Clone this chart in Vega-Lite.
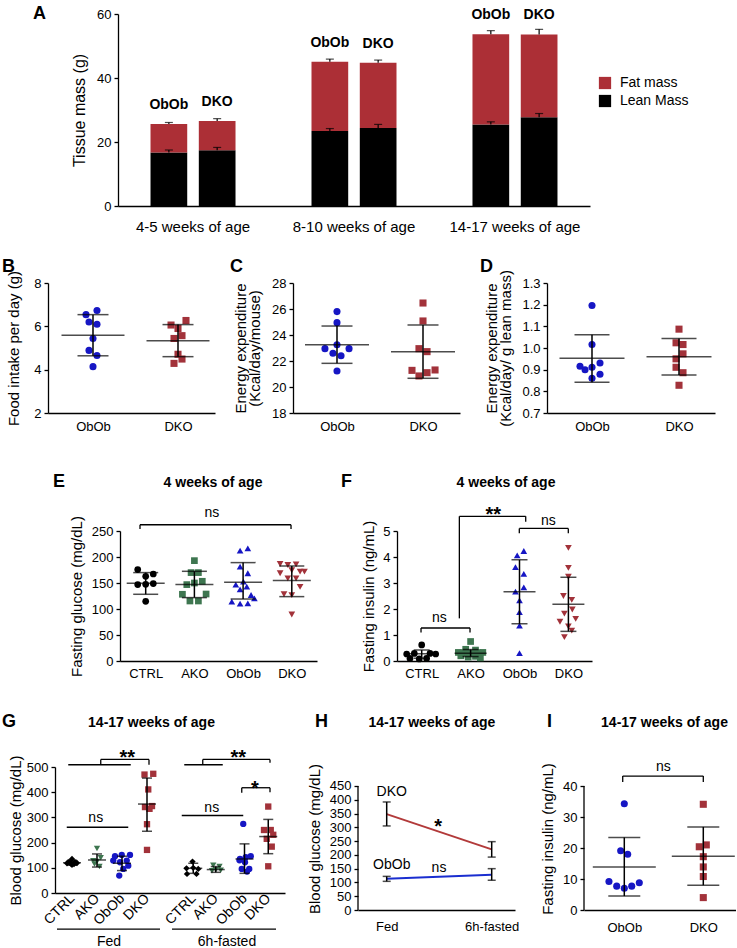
{
"$schema": "https://vega.github.io/schema/vega-lite/v6.json",
"padding": {"left": 0, "top": 5, "right": 0, "bottom": 0},
"spacing": 0,
"resolve": {"scale": {"color": "independent", "shape": "independent", "size": "independent"}, "legend": {"color": "independent", "shape": "independent", "size": "independent"}},
"config": {
  "view": {"stroke": null},
  "font": "Liberation Sans",
  "axis": {"grid": false, "domainColor": "#000", "domainWidth": 1.3, "tickColor": "#000", "tickWidth": 1.3, "tickSize": 4, "labelColor": "#000", "titleColor": "#000", "labelFont": "Liberation Sans Narrow, Liberation Sans", "labelFontSize": 13, "titleFont": "Liberation Sans", "titleFontSize": 15, "titleFontWeight": "normal", "labelPadding": 3},
  "axisX": {"labelFont": "Liberation Sans", "labelFontSize": 13, "ticks": false, "labelFlush": false, "labelOverlap": false, "labelPadding": 7},
  "text": {"color": "#000", "font": "Liberation Sans"}
},
"datasets": {
  "A_bars": [
    {"age":"4-5 weeks of age","geno":"ObOb","comp":"Lean Mass","mass":16.7},
    {"age":"4-5 weeks of age","geno":"ObOb","comp":"Fat mass","mass":8.9},
    {"age":"4-5 weeks of age","geno":"DKO","comp":"Lean Mass","mass":17.4},
    {"age":"4-5 weeks of age","geno":"DKO","comp":"Fat mass","mass":9.2},
    {"age":"8-10 weeks of age","geno":"ObOb","comp":"Lean Mass","mass":23.4},
    {"age":"8-10 weeks of age","geno":"ObOb","comp":"Fat mass","mass":21.7},
    {"age":"8-10 weeks of age","geno":"DKO","comp":"Lean Mass","mass":24.4},
    {"age":"8-10 weeks of age","geno":"DKO","comp":"Fat mass","mass":20.4},
    {"age":"14-17 weeks of age","geno":"ObOb","comp":"Lean Mass","mass":25.5},
    {"age":"14-17 weeks of age","geno":"ObOb","comp":"Fat mass","mass":28.2},
    {"age":"14-17 weeks of age","geno":"DKO","comp":"Lean Mass","mass":27.7},
    {"age":"14-17 weeks of age","geno":"DKO","comp":"Fat mass","mass":25.9}
  ],
  "A_err": [
    {"age":"4-5 weeks of age","geno":"ObOb","comp":"Lean Mass","v":16.7,"hi":17.5},
    {"age":"4-5 weeks of age","geno":"ObOb","comp":"Fat mass","v":25.6,"hi":26.1},
    {"age":"4-5 weeks of age","geno":"DKO","comp":"Lean Mass","v":17.4,"hi":18.3},
    {"age":"4-5 weeks of age","geno":"DKO","comp":"Fat mass","v":26.6,"hi":27.3},
    {"age":"8-10 weeks of age","geno":"ObOb","comp":"Lean Mass","v":23.4,"hi":24.2},
    {"age":"8-10 weeks of age","geno":"ObOb","comp":"Fat mass","v":45.1,"hi":45.9},
    {"age":"8-10 weeks of age","geno":"DKO","comp":"Lean Mass","v":24.4,"hi":25.5},
    {"age":"8-10 weeks of age","geno":"DKO","comp":"Fat mass","v":44.8,"hi":45.6},
    {"age":"14-17 weeks of age","geno":"ObOb","comp":"Lean Mass","v":25.5,"hi":26.3},
    {"age":"14-17 weeks of age","geno":"ObOb","comp":"Fat mass","v":53.7,"hi":54.8},
    {"age":"14-17 weeks of age","geno":"DKO","comp":"Lean Mass","v":27.7,"hi":28.9},
    {"age":"14-17 weeks of age","geno":"DKO","comp":"Fat mass","v":53.6,"hi":55.2}
  ],
  "P": [
    {"p":"B","g":"ObOb","x":0.918,"y":6.54},{"p":"B","g":"ObOb","x":1.047,"y":6.73},{"p":"B","g":"ObOb","x":0.953,"y":6.2},{"p":"B","g":"ObOb","x":1.047,"y":6.1},
    {"p":"B","g":"ObOb","x":1.0,"y":5.44},{"p":"B","g":"ObOb","x":0.953,"y":4.89},{"p":"B","g":"ObOb","x":1.047,"y":4.65},{"p":"B","g":"ObOb","x":1.0,"y":4.14},
    {"p":"B","g":"DKO","x":1.918,"y":6.06},{"p":"B","g":"DKO","x":2.094,"y":6.27},{"p":"B","g":"DKO","x":2.0,"y":5.9},{"p":"B","g":"DKO","x":1.953,"y":5.44},
    {"p":"B","g":"DKO","x":2.047,"y":5.57},{"p":"B","g":"DKO","x":2.0,"y":4.71},{"p":"B","g":"DKO","x":2.047,"y":4.49},{"p":"B","g":"DKO","x":1.953,"y":4.29},
    {"p":"C","g":"ObOb","x":1.0,"y":25.8},{"p":"C","g":"ObOb","x":1.0,"y":24.95},{"p":"C","g":"ObOb","x":1.0,"y":23.25},{"p":"C","g":"ObOb","x":0.86,"y":22.95},
    {"p":"C","g":"ObOb","x":1.14,"y":22.95},{"p":"C","g":"ObOb","x":0.953,"y":22.59},{"p":"C","g":"ObOb","x":1.047,"y":22.41},{"p":"C","g":"ObOb","x":1.0,"y":21.23},
    {"p":"C","g":"DKO","x":2.0,"y":26.46},{"p":"C","g":"DKO","x":2.0,"y":25.08},{"p":"C","g":"DKO","x":1.953,"y":22.95},{"p":"C","g":"DKO","x":2.047,"y":22.72},
    {"p":"C","g":"DKO","x":1.872,"y":21.28},{"p":"C","g":"DKO","x":2.14,"y":21.31},{"p":"C","g":"DKO","x":2.047,"y":21.1},{"p":"C","g":"DKO","x":1.953,"y":20.85},
    {"p":"D","g":"ObOb","x":1.0,"y":1.196},{"p":"D","g":"ObOb","x":1.0,"y":1.016},{"p":"D","g":"ObOb","x":0.862,"y":0.916},{"p":"D","g":"ObOb","x":0.92,"y":0.9},
    {"p":"D","g":"ObOb","x":1.0,"y":0.911},{"p":"D","g":"ObOb","x":1.092,"y":0.931},{"p":"D","g":"ObOb","x":1.0,"y":0.86},{"p":"D","g":"ObOb","x":1.092,"y":0.879},
    {"p":"D","g":"DKO","x":2.0,"y":1.087},{"p":"D","g":"DKO","x":1.966,"y":1.024},{"p":"D","g":"DKO","x":2.046,"y":1.016},{"p":"D","g":"DKO","x":2.046,"y":0.973},
    {"p":"D","g":"DKO","x":1.966,"y":0.95},{"p":"D","g":"DKO","x":1.966,"y":0.911},{"p":"D","g":"DKO","x":2.046,"y":0.886},{"p":"D","g":"DKO","x":2.0,"y":0.828},
    {"p":"E","g":"CTRL","x":0.836,"y":175.8},{"p":"E","g":"CTRL","x":1.0,"y":162.9},{"p":"E","g":"CTRL","x":1.156,"y":167.3},{"p":"E","g":"CTRL","x":0.836,"y":146.9},
    {"p":"E","g":"CTRL","x":1.0,"y":147.5},{"p":"E","g":"CTRL","x":1.156,"y":148.8},{"p":"E","g":"CTRL","x":1.0,"y":114.8},
    {"p":"E","g":"AKO","x":2.0,"y":193},{"p":"E","g":"AKO","x":1.932,"y":170},{"p":"E","g":"AKO","x":2.082,"y":170},{"p":"E","g":"AKO","x":1.844,"y":146.9},
    {"p":"E","g":"AKO","x":2.0,"y":150},{"p":"E","g":"AKO","x":2.162,"y":153.3},{"p":"E","g":"AKO","x":1.754,"y":128.3},{"p":"E","g":"AKO","x":2.24,"y":128.8},
    {"p":"E","g":"AKO","x":1.908,"y":115.4},{"p":"E","g":"AKO","x":2.082,"y":115.4},
    {"p":"E","g":"ObOb","x":2.938,"y":212.3},{"p":"E","g":"ObOb","x":3.097,"y":216.7},{"p":"E","g":"ObOb","x":2.938,"y":181.5},{"p":"E","g":"ObOb","x":3.097,"y":168.7},
    {"p":"E","g":"ObOb","x":3.006,"y":152.7},{"p":"E","g":"ObOb","x":2.85,"y":146.9},{"p":"E","g":"ObOb","x":3.076,"y":143},{"p":"E","g":"ObOb","x":2.938,"y":137.9},
    {"p":"E","g":"ObOb","x":3.164,"y":126.9},{"p":"E","g":"ObOb","x":3.232,"y":120.6},{"p":"E","g":"ObOb","x":2.768,"y":114.2},{"p":"E","g":"ObOb","x":2.938,"y":110.4},
    {"p":"E","g":"ObOb","x":3.097,"y":111},
    {"p":"E","g":"DKO","x":3.76,"y":186.5},{"p":"E","g":"DKO","x":3.918,"y":184.6},{"p":"E","g":"DKO","x":4.088,"y":186},{"p":"E","g":"DKO","x":3.76,"y":168.7},
    {"p":"E","g":"DKO","x":4.0,"y":174.5},{"p":"E","g":"DKO","x":4.17,"y":171.9},{"p":"E","g":"DKO","x":4.26,"y":171.9},{"p":"E","g":"DKO","x":3.918,"y":158.9},
    {"p":"E","g":"DKO","x":4.088,"y":158.9},{"p":"E","g":"DKO","x":4.17,"y":142.6},{"p":"E","g":"DKO","x":3.84,"y":128.4},{"p":"E","g":"DKO","x":4.0,"y":126.5},
    {"p":"E","g":"DKO","x":4.0,"y":89.4},
    {"p":"F","g":"CTRL","x":1.0,"y":0.62},{"p":"F","g":"CTRL","x":0.693,"y":0.27},{"p":"F","g":"CTRL","x":0.849,"y":0.29},{"p":"F","g":"CTRL","x":1.17,"y":0.29},
    {"p":"F","g":"CTRL","x":1.286,"y":0.27},{"p":"F","g":"CTRL","x":0.76,"y":0.1},{"p":"F","g":"CTRL","x":0.95,"y":0.08},{"p":"F","g":"CTRL","x":1.1,"y":0.1},
    {"p":"F","g":"AKO","x":2.0,"y":0.75},{"p":"F","g":"AKO","x":1.9,"y":0.45},{"p":"F","g":"AKO","x":2.1,"y":0.42},{"p":"F","g":"AKO","x":1.75,"y":0.33},
    {"p":"F","g":"AKO","x":1.85,"y":0.32},{"p":"F","g":"AKO","x":1.95,"y":0.3},{"p":"F","g":"AKO","x":2.05,"y":0.3},{"p":"F","g":"AKO","x":2.15,"y":0.32},
    {"p":"F","g":"AKO","x":2.25,"y":0.33},{"p":"F","g":"AKO","x":1.8,"y":0.2},{"p":"F","g":"AKO","x":1.95,"y":0.15},{"p":"F","g":"AKO","x":2.1,"y":0.18},
    {"p":"F","g":"AKO","x":2.2,"y":0.12},
    {"p":"F","g":"ObOb","x":3.088,"y":4.23},{"p":"F","g":"ObOb","x":2.953,"y":4.06},{"p":"F","g":"ObOb","x":2.918,"y":3.61},{"p":"F","g":"ObOb","x":3.088,"y":3.35},
    {"p":"F","g":"ObOb","x":3.088,"y":2.83},{"p":"F","g":"ObOb","x":2.918,"y":2.67},{"p":"F","g":"ObOb","x":3.0,"y":2.33},{"p":"F","g":"ObOb","x":3.0,"y":1.88},
    {"p":"F","g":"ObOb","x":3.0,"y":1.36},{"p":"F","g":"ObOb","x":3.0,"y":0.3},
    {"p":"F","g":"DKO","x":4.0,"y":4.35},{"p":"F","g":"DKO","x":4.0,"y":3.58},{"p":"F","g":"DKO","x":4.0,"y":3.24},{"p":"F","g":"DKO","x":3.898,"y":2.5},
    {"p":"F","g":"DKO","x":4.069,"y":2.35},{"p":"F","g":"DKO","x":3.918,"y":1.82},{"p":"F","g":"DKO","x":4.08,"y":1.98},{"p":"F","g":"DKO","x":3.828,"y":1.51},
    {"p":"F","g":"DKO","x":4.149,"y":1.62},{"p":"F","g":"DKO","x":4.0,"y":1.33},{"p":"F","g":"DKO","x":4.069,"y":1.17},{"p":"F","g":"DKO","x":3.918,"y":0.92},
    {"p":"G","g":"CTRL","x":0.88,"y":123},{"p":"G","g":"CTRL","x":1.0,"y":135},{"p":"G","g":"CTRL","x":1.12,"y":122},{"p":"G","g":"CTRL","x":0.8,"y":118},
    {"p":"G","g":"CTRL","x":0.95,"y":117},{"p":"G","g":"CTRL","x":1.08,"y":115},{"p":"G","g":"CTRL","x":1.2,"y":119},{"p":"G","g":"CTRL","x":1.0,"y":112},
    {"p":"G","g":"AKO","x":2.0,"y":177},{"p":"G","g":"AKO","x":1.85,"y":128},{"p":"G","g":"AKO","x":2.15,"y":140},{"p":"G","g":"AKO","x":2.0,"y":125},
    {"p":"G","g":"AKO","x":1.9,"y":115},{"p":"G","g":"AKO","x":2.1,"y":105},
    {"p":"G","g":"ObOb","x":2.72,"y":146},{"p":"G","g":"ObOb","x":2.99,"y":151},{"p":"G","g":"ObOb","x":3.32,"y":151},{"p":"G","g":"ObOb","x":2.65,"y":128.5},
    {"p":"G","g":"ObOb","x":2.92,"y":122},{"p":"G","g":"ObOb","x":3.19,"y":128.5},{"p":"G","g":"ObOb","x":3.05,"y":95.5},{"p":"G","g":"ObOb","x":2.89,"y":69},
    {"p":"G","g":"ObOb","x":3.25,"y":108.6},
    {"p":"G","g":"DKO","x":3.9,"y":470},{"p":"G","g":"DKO","x":4.25,"y":473},{"p":"G","g":"DKO","x":4.05,"y":411},{"p":"G","g":"DKO","x":3.92,"y":341},
    {"p":"G","g":"DKO","x":4.2,"y":345},{"p":"G","g":"DKO","x":4.1,"y":334},{"p":"G","g":"DKO","x":4.0,"y":273},{"p":"G","g":"DKO","x":4.0,"y":171},
    {"p":"G","g":"CTRL","x":5.82,"y":124.6},{"p":"G","g":"CTRL","x":5.58,"y":98},{"p":"G","g":"CTRL","x":6.05,"y":95.5},{"p":"G","g":"CTRL","x":5.6,"y":75.6},
    {"p":"G","g":"CTRL","x":5.98,"y":75.6},{"p":"G","g":"CTRL","x":5.85,"y":100},
    {"p":"G","g":"AKO","x":6.65,"y":110},{"p":"G","g":"AKO","x":6.9,"y":105},{"p":"G","g":"AKO","x":6.75,"y":92},{"p":"G","g":"AKO","x":6.6,"y":88},{"p":"G","g":"AKO","x":6.95,"y":90},
    {"p":"G","g":"ObOb","x":7.85,"y":274},{"p":"G","g":"ObOb","x":7.95,"y":142},{"p":"G","g":"ObOb","x":7.72,"y":135},{"p":"G","g":"ObOb","x":8.15,"y":146},
    {"p":"G","g":"ObOb","x":7.92,"y":122},{"p":"G","g":"ObOb","x":7.79,"y":95.5},{"p":"G","g":"ObOb","x":8.09,"y":95.5},{"p":"G","g":"ObOb","x":7.7,"y":130},
    {"p":"G","g":"ObOb","x":8.0,"y":85},
    {"p":"G","g":"DKO","x":8.85,"y":343},{"p":"G","g":"DKO","x":8.68,"y":250},{"p":"G","g":"DKO","x":8.95,"y":250},{"p":"G","g":"DKO","x":9.05,"y":231},
    {"p":"G","g":"DKO","x":8.79,"y":215},{"p":"G","g":"DKO","x":8.99,"y":184},{"p":"G","g":"DKO","x":8.85,"y":106},
    {"p":"H","g":"DKO","x":1,"y":348},{"p":"H","g":"DKO","x":2,"y":220},{"p":"H","g":"ObOb","x":1,"y":113},{"p":"H","g":"ObOb","x":2,"y":128},
    {"p":"I","g":"ObOb","x":1.0,"y":34.3},{"p":"I","g":"ObOb","x":0.954,"y":19.1},{"p":"I","g":"ObOb","x":1.043,"y":18.0},{"p":"I","g":"ObOb","x":0.806,"y":9.2},
    {"p":"I","g":"ObOb","x":0.904,"y":7.7},{"p":"I","g":"ObOb","x":1.0,"y":7.0},{"p":"I","g":"ObOb","x":1.094,"y":7.7},{"p":"I","g":"ObOb","x":1.19,"y":8.8},
    {"p":"I","g":"DKO","x":2.0,"y":34.1},{"p":"I","g":"DKO","x":1.949,"y":20.4},{"p":"I","g":"DKO","x":2.038,"y":21.0},{"p":"I","g":"DKO","x":2.0,"y":17.2},
    {"p":"I","g":"DKO","x":2.0,"y":13.9},{"p":"I","g":"DKO","x":2.0,"y":10.8},{"p":"I","g":"DKO","x":2.0,"y":4.0}
  ],
  "S": [
    {"p":"B","x":1,"mean":5.59,"lo":4.64,"hi":6.54},{"p":"B","x":2,"mean":5.34,"lo":4.6,"hi":6.08},
    {"p":"C","x":1,"mean":23.25,"lo":21.82,"hi":24.69},{"p":"C","x":2,"mean":22.72,"lo":20.67,"hi":24.77},
    {"p":"D","x":1,"mean":0.953,"lo":0.842,"hi":1.061},{"p":"D","x":2,"mean":0.96,"lo":0.875,"hi":1.044},
    {"p":"E","x":1,"mean":149.4,"lo":128.3,"hi":170},{"p":"E","x":2,"mean":146.9,"lo":121.9,"hi":172.5},{"p":"E","x":3,"mean":151.3,"lo":119.2,"hi":189.2},{"p":"E","x":4,"mean":154.6,"lo":123.8,"hi":182.7},
    {"p":"F","x":1,"mean":0.28,"lo":0.11,"hi":0.42},{"p":"F","x":2,"mean":0.3,"lo":0.17,"hi":0.44},{"p":"F","x":3,"mean":2.66,"lo":1.43,"hi":3.89},{"p":"F","x":4,"mean":2.18,"lo":1.14,"hi":3.22},
    {"p":"G","x":1,"mean":120,"lo":110,"hi":130},{"p":"G","x":2,"mean":131,"lo":103,"hi":155},{"p":"G","x":3,"mean":118,"lo":89,"hi":146},{"p":"G","x":4,"mean":353,"lo":245,"hi":456},
    {"p":"G","x":5.85,"mean":98,"lo":78,"hi":118},{"p":"G","x":6.75,"mean":93,"lo":82,"hi":105},{"p":"G","x":7.9,"mean":135,"lo":78,"hi":195},{"p":"G","x":8.85,"mean":224,"lo":156,"hi":292},
    {"p":"H","x":1,"mean":348,"lo":305,"hi":392},{"p":"H","x":2,"mean":220,"lo":192,"hi":248},{"p":"H","x":1,"mean":113,"lo":104,"hi":122},{"p":"H","x":2,"mean":128,"lo":108,"hi":150},
    {"p":"I","x":1,"mean":13.9,"lo":4.5,"hi":23.4},{"p":"I","x":2,"mean":17.3,"lo":8.0,"hi":26.8}
  ],
  "SEG": [
    {"p":"E","x":0.883,"x2":3.984,"y":262,"y2":262},{"p":"E","x":0.883,"x2":0.883,"y":254,"y2":262},{"p":"E","x":3.984,"x2":3.984,"y":254,"y2":262},
    {"p":"F","x":0.986,"x2":1.988,"y":1.27,"y2":1.27},{"p":"F","x":0.986,"x2":0.986,"y":1.1,"y2":1.27},{"p":"F","x":1.988,"x2":1.988,"y":1.1,"y2":1.27},
    {"p":"F","x":1.77,"x2":1.77,"y":1.64,"y2":5.565},{"p":"F","x":1.77,"x2":3.127,"y":5.565,"y2":5.565},{"p":"F","x":3.127,"x2":3.127,"y":5.36,"y2":5.565},
    {"p":"F","x":2.996,"x2":3.998,"y":5.1,"y2":5.1},{"p":"F","x":2.996,"x2":2.996,"y":4.91,"y2":5.1},{"p":"F","x":3.998,"x2":3.998,"y":4.91,"y2":5.1},
    {"p":"G","x":0.79,"x2":3.25,"y":261,"y2":261},
    {"p":"G","x":0.85,"x2":3.35,"y":509,"y2":509},{"p":"G","x":2.15,"x2":2.15,"y":509,"y2":530},{"p":"G","x":2.15,"x2":4.08,"y":530,"y2":530},{"p":"G","x":4.08,"x2":4.08,"y":509,"y2":530},
    {"p":"G","x":5.39,"x2":7.85,"y":307.5,"y2":307.5},
    {"p":"G","x":5.49,"x2":7.03,"y":509,"y2":509},{"p":"G","x":6.23,"x2":6.23,"y":509,"y2":530},{"p":"G","x":6.23,"x2":8.92,"y":530,"y2":530},{"p":"G","x":8.92,"x2":8.92,"y":517,"y2":530},
    {"p":"G","x":7.79,"x2":8.92,"y":417.7,"y2":417.7},{"p":"G","x":7.79,"x2":7.79,"y":398,"y2":417.7},{"p":"G","x":8.92,"x2":8.92,"y":400,"y2":417.7},
    {"p":"G","x":0.4,"x2":4.52,"y":-143,"y2":-143},{"p":"G","x":5.0,"x2":9.16,"y":-143,"y2":-143},
    {"p":"H","x":0.7267,"x2":0.7267,"y":0,"y2":450},
    {"p":"I","x":0.98,"x2":2.0,"y":43.2,"y2":43.2},{"p":"I","x":0.98,"x2":0.98,"y":41.3,"y2":43.2},{"p":"I","x":2.0,"x2":2.0,"y":41.3,"y2":43.2},
    {"p":"I","x":0.4899,"x2":0.4899,"y":0,"y2":40}
  ],
  "T": [
    {"p":"B","k":"L","t":"B","x":0.006,"y":8.508},
    {"p":"C","k":"L","t":"C","x":-0.169,"y":28.846},
    {"p":"D","k":"L","t":"D","x":-0.213,"y":1.3508},
    {"p":"E","k":"L","t":"E","x":-0.78,"y":334.6},
    {"p":"E","k":"H","t":"4 weeks of age","x":2.382,"y":334.6},
    {"p":"E","k":"n","t":"ns","x":2.361,"y":276.9},
    {"p":"F","k":"L","t":"F","x":-0.538,"y":6.692},
    {"p":"F","k":"H","t":"4 weeks of age","x":2.724,"y":6.692},
    {"p":"F","k":"n","t":"ns","x":1.36,"y":1.5},
    {"p":"F","k":"s","t":"**","x":2.464,"y":5.4},
    {"p":"F","k":"n","t":"ns","x":3.589,"y":5.23},
    {"p":"G","k":"L","t":"G","x":-1.52,"y":658.7},
    {"p":"G","k":"H","t":"14-17 weeks of age","x":4.18,"y":658.7},
    {"p":"G","k":"n","t":"ns","x":1.95,"y":280},
    {"p":"G","k":"s","t":"**","x":3.21,"y":511},
    {"p":"G","k":"n","t":"ns","x":6.59,"y":320},
    {"p":"G","k":"s","t":"**","x":7.65,"y":511},
    {"p":"G","k":"s","t":"*","x":8.32,"y":387},
    {"p":"G","k":"n","t":"Fed","x":2.48,"y":-211},
    {"p":"G","k":"n","t":"6h-fasted","x":7.2,"y":-211},
    {"p":"H","k":"L","t":"H","x":0.379,"y":664},
    {"p":"H","k":"H","t":"14-17 weeks of age","x":1.431,"y":664},
    {"p":"H","k":"n","t":"DKO","x":1.048,"y":414.7},
    {"p":"H","k":"n","t":"ObOb","x":1.048,"y":148.8},
    {"p":"H","k":"s","t":"*","x":1.49,"y":281},
    {"p":"H","k":"n","t":"ns","x":1.498,"y":136.8},
    {"p":"I","k":"L","t":"I","x":0.053,"y":59.03},
    {"p":"I","k":"H","t":"14-17 weeks of age","x":1.509,"y":59.03},
    {"p":"I","k":"n","t":"ns","x":1.494,"y":44.9}
  ]
},
"vconcat": [
  {"hconcat": [
    {"width": 118, "height": 243, "data": {"values": []}, "mark": "point"},
    {"width": 472, "height": 192,
     "title": {"text": "A", "anchor": "start", "frame": "group", "dx": -85, "offset": -15, "fontSize": 18, "fontWeight": "bold", "font": "Liberation Sans", "color": "#000"},
     "encoding": {
       "x": {"field": "age", "type": "nominal", "scale": {"domain": ["4-5 weeks of age","8-10 weeks of age","14-17 weeks of age"], "paddingInner": 0.4, "paddingOuter": 0.166}, "axis": {"title": null, "labelAngle": 0, "labelFontSize": 15, "labelPadding": 13}},
       "xOffset": {"field": "geno", "type": "nominal", "scale": {"domain": ["ObOb","DKO"], "paddingInner": 0.24, "paddingOuter": 0.12}}
     },
     "layer": [
       {"data": {"name": "A_bars"}, "mark": {"type": "bar"},
        "encoding": {
          "y": {"field": "mass", "type": "quantitative", "stack": "zero", "scale": {"domain": [0, 60], "nice": false}, "axis": {"title": "Tissue mass (g)", "values": [0,10,20,30,40,50,60], "titleFontSize": 16, "titlePadding": 9}},
          "color": {"field": "comp", "type": "nominal", "scale": {"domain": ["Fat mass","Lean Mass"], "range": ["#ac2f36","#000000"]},
                    "legend": {"title": null, "orient": "none", "legendX": 480, "legendY": 62, "symbolType": "square", "symbolSize": 150, "labelFontSize": 14, "labelFont": "Liberation Sans", "labelColor": "#000", "rowPadding": 4, "labelOffset": 8}},
          "order": {"field": "comp", "sort": "descending"}
        }},
       {"data": {"name": "A_err"}, "mark": {"type": "rule", "color": "#000", "strokeWidth": 1.2}, "encoding": {"y": {"field": "v", "type": "quantitative"}, "y2": {"field": "hi"}}},
       {"data": {"name": "A_err"}, "mark": {"type": "tick", "orient": "horizontal", "size": 8, "thickness": 1.2, "color": "#000"}, "encoding": {"y": {"field": "hi", "type": "quantitative"}}},
       {"data": {"name": "A_err"}, "transform": [{"filter": "datum.comp == 'Fat mass'"}], "mark": {"type": "text", "dy": -15, "fontSize": 14, "fontWeight": "bold", "baseline": "alphabetic"}, "encoding": {"y": {"field": "v", "type": "quantitative"}, "text": {"field": "geno"}}}
     ]}
  ], "spacing": 0, "bounds": "flush", "resolve": {"scale": {"color": "independent", "shape": "independent", "size": "independent"}, "legend": {"color": "independent", "shape": "independent", "size": "independent"}}},
  {"hconcat": [
    {"width": 48, "height": 190, "data": {"values": []}, "mark": "point"},
    {"width": 167, "height": 130,
     "encoding": {
       "x": {"field": "x", "type": "quantitative", "scale": {"domain": [0.4706, 2.4353], "nice": false, "zero": false}, "axis": {"values": [1,2], "labelExpr": "datum.value == 1 ? 'ObOb' : 'DKO'", "title": null}},
       "y": {"field": "y", "type": "quantitative", "scale": {"domain": [2, 8], "nice": false, "zero": false}, "axis": {"values": [2,4,6,8], "title": "Food intake per day (g)", "titlePadding": 12}}
     },
     "layer": [
       {"data": {"name": "P"}, "transform": [{"filter": "datum.p == 'B'"}], "mark": {"type": "point", "filled": true, "size": 50, "opacity": 1},
        "encoding": {"color": {"field": "g", "type": "nominal", "scale": {"domain": ["CTRL","AKO","ObOb","DKO"], "range": ["#000000","#3e7650","#1616c4","#a2323a"]}, "legend": null},
                     "shape": {"field": "g", "type": "nominal", "scale": {"domain": ["ObOb","DKO"], "range": ["circle","square"]}, "legend": null}}},
       {"data": {"name": "S"}, "transform": [{"filter": "datum.p == 'B'"}], "mark": {"type": "rule", "color": "#000", "strokeWidth": 1.5}, "encoding": {"y": {"field": "lo", "type": "quantitative"}, "y2": {"field": "hi"}}},
       {"data": {"name": "S"}, "transform": [{"filter": "datum.p == 'B'"}], "mark": {"type": "tick", "orient": "horizontal", "size": 63, "thickness": 1.5, "color": "#000"}, "encoding": {"y": {"field": "mean", "type": "quantitative"}}},
       {"data": {"name": "S"}, "transform": [{"filter": "datum.p == 'B'"}], "mark": {"type": "tick", "orient": "horizontal", "size": 31, "thickness": 1.5, "color": "#000"}, "encoding": {"y": {"field": "lo", "type": "quantitative"}}},
       {"data": {"name": "S"}, "transform": [{"filter": "datum.p == 'B'"}], "mark": {"type": "tick", "orient": "horizontal", "size": 31, "thickness": 1.5, "color": "#000"}, "encoding": {"y": {"field": "hi", "type": "quantitative"}}},
       {"data": {"name": "T"}, "transform": [{"filter": "datum.p == 'B' && datum.k == 'L'"}], "mark": {"type": "text", "fontSize": 18, "fontWeight": "bold", "baseline": "alphabetic", "align": "center"}, "encoding": {"text": {"field": "t"}}}
     ]},
    {"width": 78, "height": 1, "data": {"values": []}, "mark": "point"},
    {"width": 167, "height": 130,
     "encoding": {
       "x": {"field": "x", "type": "quantitative", "scale": {"domain": [0.4884, 2.4302], "nice": false, "zero": false}, "axis": {"values": [1,2], "labelExpr": "datum.value == 1 ? 'ObOb' : 'DKO'", "title": null}},
       "y": {"field": "y", "type": "quantitative", "scale": {"domain": [18, 28], "nice": false, "zero": false}, "axis": {"values": [18,20,22,24,26,28], "title": ["Energy expenditure", "(Kcal/day/mouse)"], "titlePadding": 9, "titleLineHeight": 14}}
     },
     "layer": [
       {"data": {"name": "P"}, "transform": [{"filter": "datum.p == 'C'"}], "mark": {"type": "point", "filled": true, "size": 50, "opacity": 1},
        "encoding": {"color": {"field": "g", "type": "nominal", "scale": {"domain": ["CTRL","AKO","ObOb","DKO"], "range": ["#000000","#3e7650","#1616c4","#a2323a"]}, "legend": null},
                     "shape": {"field": "g", "type": "nominal", "scale": {"domain": ["ObOb","DKO"], "range": ["circle","square"]}, "legend": null}}},
       {"data": {"name": "S"}, "transform": [{"filter": "datum.p == 'C'"}], "mark": {"type": "rule", "color": "#000", "strokeWidth": 1.5}, "encoding": {"y": {"field": "lo", "type": "quantitative"}, "y2": {"field": "hi"}}},
       {"data": {"name": "S"}, "transform": [{"filter": "datum.p == 'C'"}], "mark": {"type": "tick", "orient": "horizontal", "size": 64, "thickness": 1.5, "color": "#000"}, "encoding": {"y": {"field": "mean", "type": "quantitative"}}},
       {"data": {"name": "S"}, "transform": [{"filter": "datum.p == 'C'"}], "mark": {"type": "tick", "orient": "horizontal", "size": 31, "thickness": 1.5, "color": "#000"}, "encoding": {"y": {"field": "lo", "type": "quantitative"}}},
       {"data": {"name": "S"}, "transform": [{"filter": "datum.p == 'C'"}], "mark": {"type": "tick", "orient": "horizontal", "size": 31, "thickness": 1.5, "color": "#000"}, "encoding": {"y": {"field": "hi", "type": "quantitative"}}},
       {"data": {"name": "T"}, "transform": [{"filter": "datum.p == 'C' && datum.k == 'L'"}], "mark": {"type": "text", "fontSize": 18, "fontWeight": "bold", "baseline": "alphabetic", "align": "center"}, "encoding": {"text": {"field": "t"}}}
     ]},
    {"width": 87, "height": 1, "data": {"values": []}, "mark": "point"},
    {"width": 168, "height": 130,
     "encoding": {
       "x": {"field": "x", "type": "quantitative", "scale": {"domain": [0.4828, 2.4138], "nice": false, "zero": false}, "axis": {"values": [1,2], "labelExpr": "datum.value == 1 ? 'ObOb' : 'DKO'", "title": null}},
       "y": {"field": "y", "type": "quantitative", "scale": {"domain": [0.7, 1.3], "nice": false, "zero": false}, "axis": {"values": [0.7,0.8,0.9,1.0,1.1,1.2,1.3], "format": ".1f", "title": ["Energy expenditure", "(Kcal/day/ g lean mass)"], "titlePadding": 8, "titleLineHeight": 14}}
     },
     "layer": [
       {"data": {"name": "P"}, "transform": [{"filter": "datum.p == 'D'"}], "mark": {"type": "point", "filled": true, "size": 50, "opacity": 1},
        "encoding": {"color": {"field": "g", "type": "nominal", "scale": {"domain": ["CTRL","AKO","ObOb","DKO"], "range": ["#000000","#3e7650","#1616c4","#a2323a"]}, "legend": null},
                     "shape": {"field": "g", "type": "nominal", "scale": {"domain": ["ObOb","DKO"], "range": ["circle","square"]}, "legend": null}}},
       {"data": {"name": "S"}, "transform": [{"filter": "datum.p == 'D'"}], "mark": {"type": "rule", "color": "#000", "strokeWidth": 1.5}, "encoding": {"y": {"field": "lo", "type": "quantitative"}, "y2": {"field": "hi"}}},
       {"data": {"name": "S"}, "transform": [{"filter": "datum.p == 'D'"}], "mark": {"type": "tick", "orient": "horizontal", "size": 65, "thickness": 1.5, "color": "#000"}, "encoding": {"y": {"field": "mean", "type": "quantitative"}}},
       {"data": {"name": "S"}, "transform": [{"filter": "datum.p == 'D'"}], "mark": {"type": "tick", "orient": "horizontal", "size": 35, "thickness": 1.5, "color": "#000"}, "encoding": {"y": {"field": "lo", "type": "quantitative"}}},
       {"data": {"name": "S"}, "transform": [{"filter": "datum.p == 'D'"}], "mark": {"type": "tick", "orient": "horizontal", "size": 35, "thickness": 1.5, "color": "#000"}, "encoding": {"y": {"field": "hi", "type": "quantitative"}}},
       {"data": {"name": "T"}, "transform": [{"filter": "datum.p == 'D' && datum.k == 'L'"}], "mark": {"type": "text", "fontSize": 18, "fontWeight": "bold", "baseline": "alphabetic", "align": "center"}, "encoding": {"text": {"field": "t"}}}
     ]}
  ], "spacing": 0, "bounds": "flush", "resolve": {"scale": {"color": "independent", "shape": "independent", "size": "independent"}, "legend": {"color": "independent", "shape": "independent", "size": "independent"}}},
  {"hconcat": [
    {"width": 120, "height": 182, "data": {"values": []}, "mark": "point"},
    {"width": 197, "height": 130,
     "encoding": {
       "x": {"field": "x", "type": "quantitative", "scale": {"domain": [0.4723, 4.5175], "nice": false, "zero": false}, "axis": {"values": [1,2,3,4], "labelExpr": "['', 'CTRL', 'AKO', 'ObOb', 'DKO'][datum.value]", "title": null, "labelPadding": 6}},
       "y": {"field": "y", "type": "quantitative", "scale": {"domain": [0, 250], "nice": false}, "axis": {"values": [0,50,100,150,200,250], "title": "Fasting glucose (mg/dL)", "titlePadding": 7}}
     },
     "layer": [
       {"data": {"name": "SEG"}, "transform": [{"filter": "datum.p == 'E'"}], "mark": {"type": "rule", "color": "#000", "strokeWidth": 1.3}, "encoding": {"x2": {"field": "x2"}, "y2": {"field": "y2"}}},
       {"data": {"name": "P"}, "transform": [{"filter": "datum.p == 'E'"}], "mark": {"type": "point", "filled": true, "size": 45, "opacity": 1},
        "encoding": {"color": {"field": "g", "type": "nominal", "scale": {"domain": ["CTRL","AKO","ObOb","DKO"], "range": ["#000000","#3e7650","#1616c4","#a2323a"]}, "legend": null},
                     "shape": {"field": "g", "type": "nominal", "scale": {"domain": ["CTRL","AKO","ObOb","DKO"], "range": ["circle","square","triangle-up","triangle-down"]}, "legend": null}}},
       {"data": {"name": "S"}, "transform": [{"filter": "datum.p == 'E'"}], "mark": {"type": "rule", "color": "#000", "strokeWidth": 1.5}, "encoding": {"y": {"field": "lo", "type": "quantitative"}, "y2": {"field": "hi"}}},
       {"data": {"name": "S"}, "transform": [{"filter": "datum.p == 'E'"}], "mark": {"type": "tick", "orient": "horizontal", "size": 38, "thickness": 1.5, "color": "#000"}, "encoding": {"y": {"field": "mean", "type": "quantitative"}}},
       {"data": {"name": "S"}, "transform": [{"filter": "datum.p == 'E'"}], "mark": {"type": "tick", "orient": "horizontal", "size": 25, "thickness": 1.5, "color": "#000"}, "encoding": {"y": {"field": "lo", "type": "quantitative"}}},
       {"data": {"name": "S"}, "transform": [{"filter": "datum.p == 'E'"}], "mark": {"type": "tick", "orient": "horizontal", "size": 25, "thickness": 1.5, "color": "#000"}, "encoding": {"y": {"field": "hi", "type": "quantitative"}}},
       {"data": {"name": "T"}, "transform": [{"filter": "datum.p == 'E' && datum.k == 'L'"}], "mark": {"type": "text", "fontSize": 18, "fontWeight": "bold", "baseline": "alphabetic", "align": "center"}, "encoding": {"text": {"field": "t"}}},
       {"data": {"name": "T"}, "transform": [{"filter": "datum.p == 'E' && datum.k == 'H'"}], "mark": {"type": "text", "fontSize": 14, "fontWeight": "bold", "baseline": "alphabetic", "align": "center"}, "encoding": {"text": {"field": "t"}}},
       {"data": {"name": "T"}, "transform": [{"filter": "datum.p == 'E' && datum.k == 'n'"}], "mark": {"type": "text", "fontSize": 14, "baseline": "alphabetic", "align": "center"}, "encoding": {"text": {"field": "t"}}}
     ]},
    {"width": 80, "height": 1, "data": {"values": []}, "mark": "point"},
    {"width": 195, "height": 130,
     "encoding": {
       "x": {"field": "x", "type": "quantitative", "scale": {"domain": [0.4949, 4.4826], "nice": false, "zero": false}, "axis": {"values": [1,2,3,4], "labelExpr": "['', 'CTRL', 'AKO', 'ObOb', 'DKO'][datum.value]", "title": null, "labelPadding": 6}},
       "y": {"field": "y", "type": "quantitative", "scale": {"domain": [0, 5], "nice": false}, "axis": {"values": [0,1,2,3,4,5], "title": "Fasting insulin (ng/mL)", "titlePadding": 6}}
     },
     "layer": [
       {"data": {"name": "SEG"}, "transform": [{"filter": "datum.p == 'F'"}], "mark": {"type": "rule", "color": "#000", "strokeWidth": 1.3}, "encoding": {"x2": {"field": "x2"}, "y2": {"field": "y2"}}},
       {"data": {"name": "P"}, "transform": [{"filter": "datum.p == 'F'"}], "mark": {"type": "point", "filled": true, "size": 45, "opacity": 1},
        "encoding": {"color": {"field": "g", "type": "nominal", "scale": {"domain": ["CTRL","AKO","ObOb","DKO"], "range": ["#000000","#3e7650","#1616c4","#a2323a"]}, "legend": null},
                     "shape": {"field": "g", "type": "nominal", "scale": {"domain": ["CTRL","AKO","ObOb","DKO"], "range": ["circle","square","triangle-up","triangle-down"]}, "legend": null}}},
       {"data": {"name": "S"}, "transform": [{"filter": "datum.p == 'F'"}], "mark": {"type": "rule", "color": "#000", "strokeWidth": 1.5}, "encoding": {"y": {"field": "lo", "type": "quantitative"}, "y2": {"field": "hi"}}},
       {"data": {"name": "S"}, "transform": [{"filter": "datum.p == 'F'"}], "mark": {"type": "tick", "orient": "horizontal", "size": 32, "thickness": 1.5, "color": "#000"}, "encoding": {"y": {"field": "mean", "type": "quantitative"}}},
       {"data": {"name": "S"}, "transform": [{"filter": "datum.p == 'F'"}], "mark": {"type": "tick", "orient": "horizontal", "size": 16, "thickness": 1.5, "color": "#000"}, "encoding": {"y": {"field": "lo", "type": "quantitative"}}},
       {"data": {"name": "S"}, "transform": [{"filter": "datum.p == 'F'"}], "mark": {"type": "tick", "orient": "horizontal", "size": 16, "thickness": 1.5, "color": "#000"}, "encoding": {"y": {"field": "hi", "type": "quantitative"}}},
       {"data": {"name": "T"}, "transform": [{"filter": "datum.p == 'F' && datum.k == 'L'"}], "mark": {"type": "text", "fontSize": 18, "fontWeight": "bold", "baseline": "alphabetic", "align": "center"}, "encoding": {"text": {"field": "t"}}},
       {"data": {"name": "T"}, "transform": [{"filter": "datum.p == 'F' && datum.k == 'H'"}], "mark": {"type": "text", "fontSize": 14, "fontWeight": "bold", "baseline": "alphabetic", "align": "center"}, "encoding": {"text": {"field": "t"}}},
       {"data": {"name": "T"}, "transform": [{"filter": "datum.p == 'F' && datum.k == 's'"}], "mark": {"type": "text", "fontSize": 20, "fontWeight": "bold", "baseline": "alphabetic", "align": "center"}, "encoding": {"text": {"field": "t"}}},
       {"data": {"name": "T"}, "transform": [{"filter": "datum.p == 'F' && datum.k == 'n'"}], "mark": {"type": "text", "fontSize": 14, "baseline": "alphabetic", "align": "center"}, "encoding": {"text": {"field": "t"}}}
     ]}
  ], "spacing": 0, "bounds": "flush", "resolve": {"scale": {"color": "independent", "shape": "independent", "size": "independent"}, "legend": {"color": "independent", "shape": "independent", "size": "independent"}}},
  {"hconcat": [
    {"width": 55, "height": 1, "data": {"values": []}, "mark": "point"},
    {"width": 230, "height": 126,
     "encoding": {
       "x": {"field": "x", "type": "quantitative", "scale": {"domain": [0.32, 9.52], "nice": false, "zero": false}, "axis": {"values": [1,2,3,4,5.85,6.75,7.9,8.85], "labelExpr": "datum.value < 4.5 ? ['', 'CTRL', 'AKO', 'ObOb', 'DKO'][datum.value] : (datum.value == 5.85 ? 'CTRL' : datum.value == 6.75 ? 'AKO' : datum.value == 7.9 ? 'ObOb' : 'DKO')", "title": null, "labelAngle": -45, "labelAlign": "right", "labelBaseline": "middle", "labelPadding": 3, "labelFontSize": 14}},
       "y": {"field": "y", "type": "quantitative", "scale": {"domain": [0, 500], "nice": false}, "axis": {"values": [0,100,200,300,400,500], "title": "Blood glucose (mg/dL)", "titlePadding": 3}}
     },
     "layer": [
       {"data": {"name": "SEG"}, "transform": [{"filter": "datum.p == 'G'"}], "mark": {"type": "rule", "color": "#000", "strokeWidth": 1.3}, "encoding": {"x2": {"field": "x2"}, "y2": {"field": "y2"}}},
       {"data": {"name": "P"}, "transform": [{"filter": "datum.p == 'G'"}], "mark": {"type": "point", "filled": true, "opacity": 1},
        "encoding": {"color": {"field": "g", "type": "nominal", "scale": {"domain": ["CTRL","AKO","ObOb","DKO"], "range": ["#000000","#3e7650","#1616c4","#a2323a"]}, "legend": null},
                     "shape": {"field": "g", "type": "nominal", "scale": {"domain": ["CTRL","AKO","ObOb","DKO"], "range": ["diamond","triangle-down","circle","square"]}, "legend": null},
                     "size": {"field": "g", "type": "ordinal", "scale": {"domain": ["CTRL","AKO","ObOb","DKO"], "range": [40,40,75,50]}, "legend": null}}},
       {"data": {"name": "S"}, "transform": [{"filter": "datum.p == 'G'"}], "mark": {"type": "rule", "color": "#000", "strokeWidth": 1.5}, "encoding": {"y": {"field": "lo", "type": "quantitative"}, "y2": {"field": "hi"}}},
       {"data": {"name": "S"}, "transform": [{"filter": "datum.p == 'G'"}], "mark": {"type": "tick", "orient": "horizontal", "size": 18, "thickness": 1.5, "color": "#000"}, "encoding": {"y": {"field": "mean", "type": "quantitative"}}},
       {"data": {"name": "S"}, "transform": [{"filter": "datum.p == 'G'"}], "mark": {"type": "tick", "orient": "horizontal", "size": 10, "thickness": 1.5, "color": "#000"}, "encoding": {"y": {"field": "lo", "type": "quantitative"}}},
       {"data": {"name": "S"}, "transform": [{"filter": "datum.p == 'G'"}], "mark": {"type": "tick", "orient": "horizontal", "size": 10, "thickness": 1.5, "color": "#000"}, "encoding": {"y": {"field": "hi", "type": "quantitative"}}},
       {"data": {"name": "T"}, "transform": [{"filter": "datum.p == 'G' && datum.k == 'L'"}], "mark": {"type": "text", "fontSize": 18, "fontWeight": "bold", "baseline": "alphabetic", "align": "center"}, "encoding": {"text": {"field": "t"}}},
       {"data": {"name": "T"}, "transform": [{"filter": "datum.p == 'G' && datum.k == 'H'"}], "mark": {"type": "text", "fontSize": 14, "fontWeight": "bold", "baseline": "alphabetic", "align": "center"}, "encoding": {"text": {"field": "t"}}},
       {"data": {"name": "T"}, "transform": [{"filter": "datum.p == 'G' && datum.k == 's'"}], "mark": {"type": "text", "fontSize": 20, "fontWeight": "bold", "baseline": "alphabetic", "align": "center"}, "encoding": {"text": {"field": "t"}}},
       {"data": {"name": "T"}, "transform": [{"filter": "datum.p == 'G' && datum.k == 'n'"}], "mark": {"type": "text", "fontSize": 14, "baseline": "alphabetic", "align": "center"}, "encoding": {"text": {"field": "t"}}}
     ]},
    {"width": 73, "height": 1, "data": {"values": []}, "mark": "point"},
    {"width": 157, "height": 143,
     "encoding": {
       "x": {"field": "x", "type": "quantitative", "scale": {"domain": [0.7267, 2.2219], "nice": false, "zero": false}, "axis": {"values": [1,2], "labelExpr": "datum.value == 1 ? 'Fed' : '6h-fasted'", "title": null, "labelPadding": 10, "labelDx": -11}},
       "y": {"field": "y", "type": "quantitative", "scale": {"domain": [0, 518.9], "nice": false}, "axis": {"values": [0,50,100,150,200,250,300,350,400,450], "domain": false, "title": "Blood glucose (mg/dL)", "titlePadding": 7}}
     },
     "layer": [
       {"data": {"name": "SEG"}, "transform": [{"filter": "datum.p == 'H'"}], "mark": {"type": "rule", "color": "#000", "strokeWidth": 1.3}, "encoding": {"x2": {"field": "x2"}, "y2": {"field": "y2"}}},
       {"data": {"name": "P"}, "transform": [{"filter": "datum.p == 'H'"}], "mark": {"type": "line", "strokeWidth": 2},
        "encoding": {"color": {"field": "g", "type": "nominal", "scale": {"domain": ["ObOb","DKO"], "range": ["#1a2ed0","#b23a3a"]}, "legend": null}}},
       {"data": {"name": "S"}, "transform": [{"filter": "datum.p == 'H'"}], "mark": {"type": "rule", "color": "#000", "strokeWidth": 1.5}, "encoding": {"y": {"field": "lo", "type": "quantitative"}, "y2": {"field": "hi"}}},
       {"data": {"name": "S"}, "transform": [{"filter": "datum.p == 'H'"}], "mark": {"type": "tick", "orient": "horizontal", "size": 8, "thickness": 1.5, "color": "#000"}, "encoding": {"y": {"field": "lo", "type": "quantitative"}}},
       {"data": {"name": "S"}, "transform": [{"filter": "datum.p == 'H'"}], "mark": {"type": "tick", "orient": "horizontal", "size": 8, "thickness": 1.5, "color": "#000"}, "encoding": {"y": {"field": "hi", "type": "quantitative"}}},
       {"data": {"name": "T"}, "transform": [{"filter": "datum.p == 'H' && datum.k == 'L'"}], "mark": {"type": "text", "fontSize": 18, "fontWeight": "bold", "baseline": "alphabetic", "align": "center"}, "encoding": {"text": {"field": "t"}}},
       {"data": {"name": "T"}, "transform": [{"filter": "datum.p == 'H' && datum.k == 'H'"}], "mark": {"type": "text", "fontSize": 14, "fontWeight": "bold", "baseline": "alphabetic", "align": "center"}, "encoding": {"text": {"field": "t"}}},
       {"data": {"name": "T"}, "transform": [{"filter": "datum.p == 'H' && datum.k == 's'"}], "mark": {"type": "text", "fontSize": 20, "fontWeight": "bold", "baseline": "alphabetic", "align": "center"}, "encoding": {"text": {"field": "t"}}},
       {"data": {"name": "T"}, "transform": [{"filter": "datum.p == 'H' && datum.k == 'n'"}], "mark": {"type": "text", "fontSize": 14, "baseline": "alphabetic", "align": "center"}, "encoding": {"text": {"field": "t"}}}
     ]},
    {"width": 69, "height": 1, "data": {"values": []}, "mark": "point"},
    {"width": 152, "height": 143,
     "encoding": {
       "x": {"field": "x", "type": "quantitative", "scale": {"domain": [0.4899, 2.414], "nice": false, "zero": false}, "axis": {"values": [1,2], "labelExpr": "datum.value == 1 ? 'ObOb' : 'DKO'", "title": null, "labelPadding": 11}},
       "y": {"field": "y", "type": "quantitative", "scale": {"domain": [0, 46.13], "nice": false}, "axis": {"values": [0,10,20,30,40], "domain": false, "title": "Fasting insulin (ng/mL)", "titlePadding": 7}}
     },
     "layer": [
       {"data": {"name": "SEG"}, "transform": [{"filter": "datum.p == 'I'"}], "mark": {"type": "rule", "color": "#000", "strokeWidth": 1.3}, "encoding": {"x2": {"field": "x2"}, "y2": {"field": "y2"}}},
       {"data": {"name": "P"}, "transform": [{"filter": "datum.p == 'I'"}], "mark": {"type": "point", "filled": true, "size": 50, "opacity": 1},
        "encoding": {"color": {"field": "g", "type": "nominal", "scale": {"domain": ["CTRL","AKO","ObOb","DKO"], "range": ["#000000","#3e7650","#1616c4","#a2323a"]}, "legend": null},
                     "shape": {"field": "g", "type": "nominal", "scale": {"domain": ["ObOb","DKO"], "range": ["circle","square"]}, "legend": null}}},
       {"data": {"name": "S"}, "transform": [{"filter": "datum.p == 'I'"}], "mark": {"type": "rule", "color": "#000", "strokeWidth": 1.5}, "encoding": {"y": {"field": "lo", "type": "quantitative"}, "y2": {"field": "hi"}}},
       {"data": {"name": "S"}, "transform": [{"filter": "datum.p == 'I'"}], "mark": {"type": "tick", "orient": "horizontal", "size": 63, "thickness": 1.5, "color": "#000"}, "encoding": {"y": {"field": "mean", "type": "quantitative"}}},
       {"data": {"name": "S"}, "transform": [{"filter": "datum.p == 'I'"}], "mark": {"type": "tick", "orient": "horizontal", "size": 32, "thickness": 1.5, "color": "#000"}, "encoding": {"y": {"field": "lo", "type": "quantitative"}}},
       {"data": {"name": "S"}, "transform": [{"filter": "datum.p == 'I'"}], "mark": {"type": "tick", "orient": "horizontal", "size": 32, "thickness": 1.5, "color": "#000"}, "encoding": {"y": {"field": "hi", "type": "quantitative"}}},
       {"data": {"name": "T"}, "transform": [{"filter": "datum.p == 'I' && datum.k == 'L'"}], "mark": {"type": "text", "fontSize": 18, "fontWeight": "bold", "baseline": "alphabetic", "align": "center"}, "encoding": {"text": {"field": "t"}}},
       {"data": {"name": "T"}, "transform": [{"filter": "datum.p == 'I' && datum.k == 'H'"}], "mark": {"type": "text", "fontSize": 14, "fontWeight": "bold", "baseline": "alphabetic", "align": "center"}, "encoding": {"text": {"field": "t"}}},
       {"data": {"name": "T"}, "transform": [{"filter": "datum.p == 'I' && datum.k == 'n'"}], "mark": {"type": "text", "fontSize": 14, "baseline": "alphabetic", "align": "center"}, "encoding": {"text": {"field": "t"}}}
     ]}
  ], "spacing": 0, "bounds": "flush", "resolve": {"scale": {"color": "independent", "shape": "independent", "size": "independent"}, "legend": {"color": "independent", "shape": "independent", "size": "independent"}}}
]
}
